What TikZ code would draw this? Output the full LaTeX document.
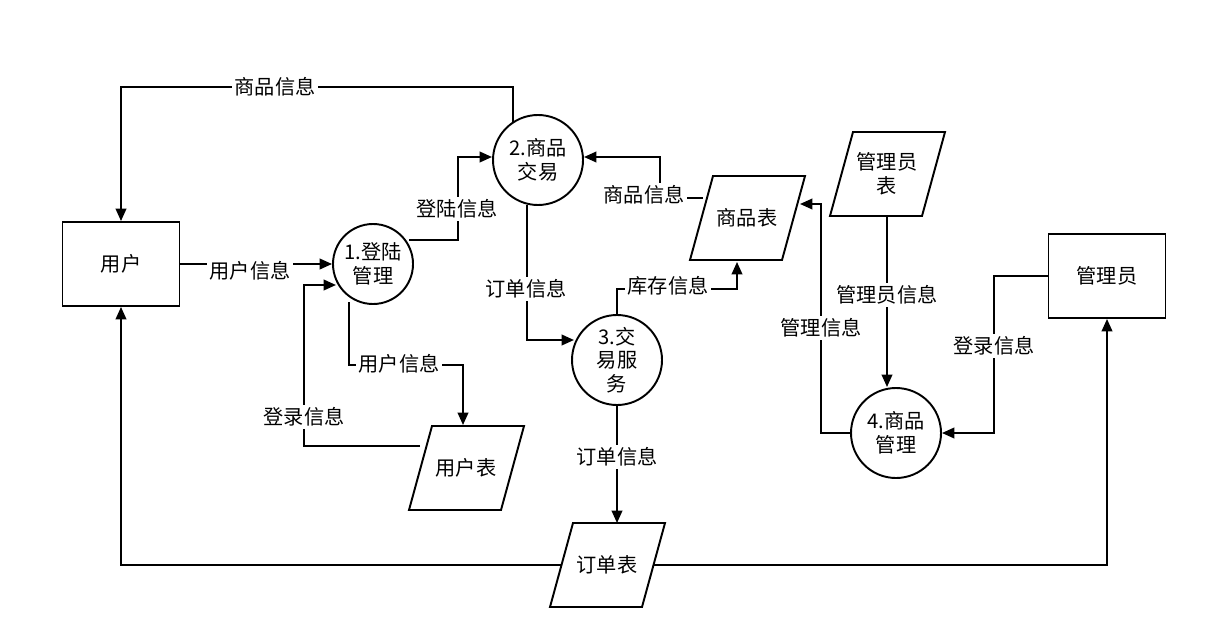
\documentclass[tikz,border=0pt]{standalone}
\usepackage{fontspec}
\setmainfont{Noto Sans CJK SC}
\usetikzlibrary{arrows.meta}
\begin{document}
\begin{tikzpicture}[x=0.02cm,y=-0.02cm,font=\fontsize{11.5}{13.5}\selectfont,
  line width=1.1pt,
  box/.style={draw,minimum width=117*0.02cm,minimum height=84*0.02cm},
  proc/.style={draw,circle,minimum size=90*0.02cm,inner sep=0pt,align=center},
  lbl/.style={fill=white,inner sep=1.5pt},
  arr/.style={-{Triangle[length=7pt,width=6pt]}},
  store/.style={minimum width=92*0.02cm,minimum height=84*0.02cm,align=center}]
\useasboundingbox (0,0) rectangle (1216,642);
\fill[white] (0,0) rectangle (1216,642);
\node[box] (user) at (121,264) {用户};
\node[box] (admin) at (1107,276) {管理员};
\node[proc,minimum size=80*0.02cm] (p1) at (373,264) {1.登陆\\管理};
\node[proc] (p2) at (538,160) {2.商品\\交易};
\node[proc] (p3) at (617,360) {3.交\\易服\\务};
\node[proc] (p4) at (896,433) {4.商品\\管理};
\node[store] (goods) at (747,218) {商品表};
\node[store] (admint) at (887,174) {管理员\\表};
\node[store] (usert) at (466,468) {用户表};
\node[store] (order) at (607,565) {订单表};
\foreach \cx/\cy in {747/218,887/174,466/468,607/565}
  \draw (\cx-34,\cy-42) -- (\cx+58,\cy-42) -- (\cx+35,\cy+42) -- (\cx-57,\cy+42) -- cycle;
\coordinate (a1) at (513,87);
\draw[arr] (513,122) -- (a1) -- (121,87) -- (user.north);
\node[lbl] at (275,87) {商品信息};
\draw[arr] (user.east) -- (p1.west);
\node[lbl] at (250,271) {用户信息};
\draw[arr] (409,240) -- (458,240) -- (458,157) -- (492,157);
\node[lbl] at (457,209) {登陆信息};
\draw[arr] (527,205) -- (527,340) -- (574,340);
\node[lbl] at (526,289) {订单信息};
\draw[arr] (617,315) -- (617,289) -- (737,289) -- (737,262);
\node[lbl] at (668,286) {库存信息};
\draw[arr] (703,198) -- (660,198) -- (660,157) -- (584,157);
\node[lbl] at (644,195) {商品信息};
\draw[arr] (349,302) -- (349,365) -- (463,365) -- (463,425);
\node[lbl] at (399,364) {用户信息};
\draw[arr] (420,446) -- (304,446) -- (304,285) -- (336,285);
\node[lbl] at (304,417) {登录信息};
\draw[arr] (617,405) -- (617,523);
\node[lbl] at (617,457) {订单信息};
\draw[arr] (561,565) -- (121,565) -- (user.south);
\draw[arr] (653,565) -- (1107,565) -- (admin.south);
\draw[arr] (887,216) -- (887,387);
\node[lbl] at (887,295) {管理员信息};
\draw[arr] (p4.west) -- (821,433) -- (821,204) -- (800,204);
\node[lbl] at (821,328) {管理信息};
\draw[arr] (admin.west) -- (994,276) -- (994,433) -- (p4.east);
\node[lbl] at (994,346) {登录信息};
\end{tikzpicture}
\end{document}
